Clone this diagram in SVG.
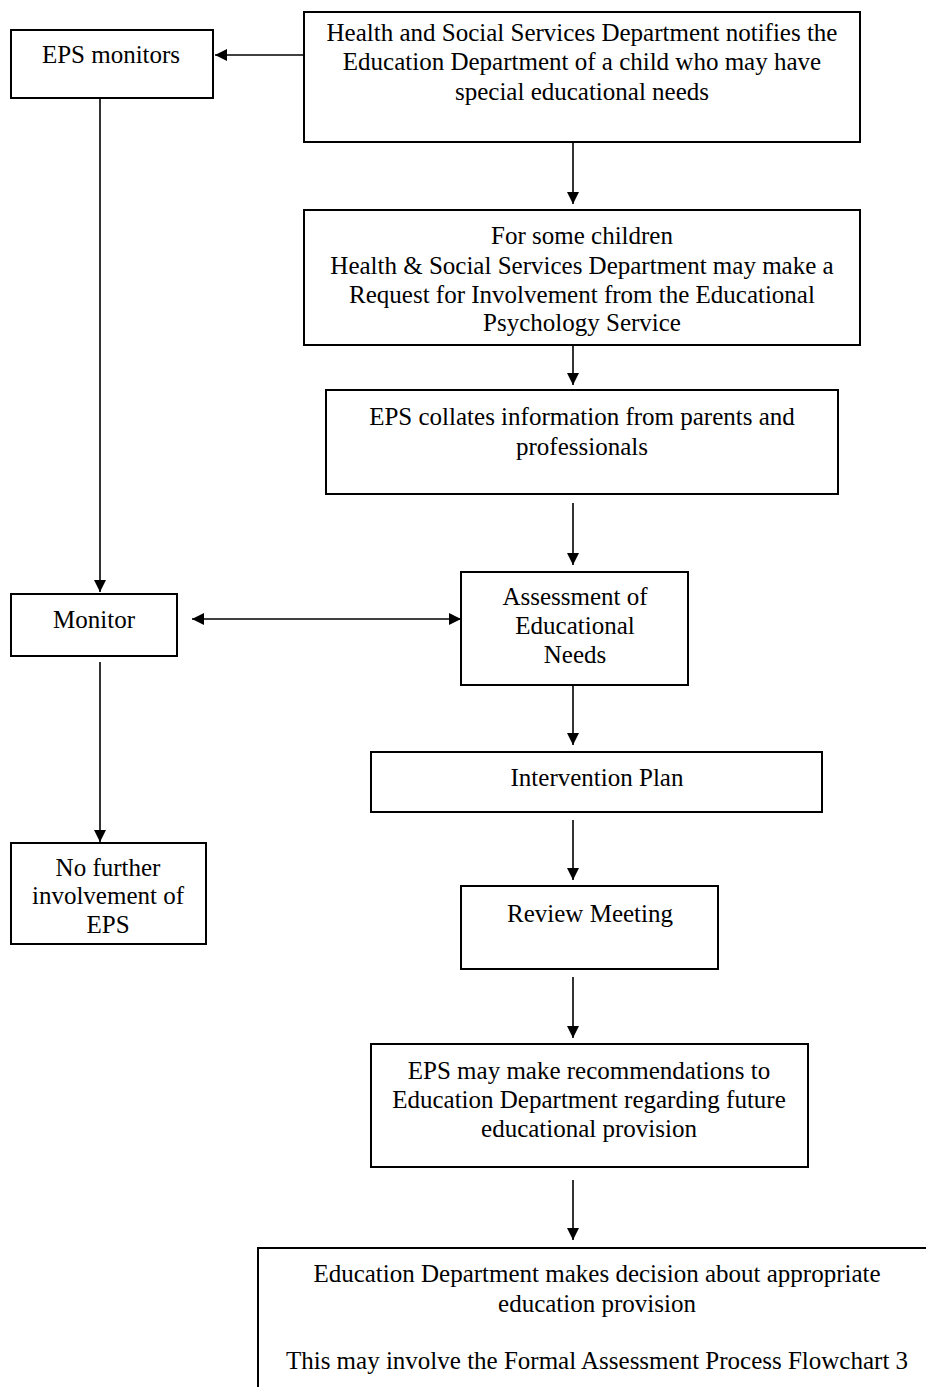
<svg xmlns="http://www.w3.org/2000/svg" width="926" height="1387" viewBox="0 0 926 1387">
<style>
.box{fill:#fff;stroke:#000;stroke-width:2}
.t{font-family:"Liberation Serif","Times New Roman",serif;font-size:25px;fill:#000;text-anchor:middle}
.c{stroke:#000;stroke-width:1.6;fill:none}
</style>
<defs>
<marker id="ah" viewBox="0 0 12 12" refX="12" refY="6" markerWidth="12" markerHeight="12" markerUnits="userSpaceOnUse" orient="auto-start-reverse">
<path d="M0,0 L12,6 L0,12 Z" fill="#000"/>
</marker>
</defs>
<rect width="926" height="1387" fill="#fff"/>
<g id="connectors">
<line class="c" x1="304" y1="55" x2="215" y2="55" marker-end="url(#ah)"/>
<line class="c" x1="573" y1="142" x2="573" y2="204" marker-end="url(#ah)"/>
<line class="c" x1="573" y1="345" x2="573" y2="385" marker-end="url(#ah)"/>
<line class="c" x1="573" y1="503" x2="573" y2="565" marker-end="url(#ah)"/>
<line class="c" x1="100" y1="98" x2="100" y2="592" marker-end="url(#ah)"/>
<line class="c" x1="192" y1="619" x2="461" y2="619" marker-start="url(#ah)" marker-end="url(#ah)"/>
<line class="c" x1="100" y1="662" x2="100" y2="842" marker-end="url(#ah)"/>
<line class="c" x1="573" y1="685" x2="573" y2="745" marker-end="url(#ah)"/>
<line class="c" x1="573" y1="820" x2="573" y2="880" marker-end="url(#ah)"/>
<line class="c" x1="573" y1="977" x2="573" y2="1038" marker-end="url(#ah)"/>
<line class="c" x1="573" y1="1180" x2="573" y2="1240" marker-end="url(#ah)"/>
</g>
<g id="hss-notifies">
<rect class="box" x="304" y="12" width="556" height="130"/>
<text class="t" x="582" y="41">Health and Social Services Department notifies the</text>
<text class="t" x="582" y="70">Education Department of a child who may have</text>
<text class="t" x="582" y="100">special educational needs</text>
</g>
<g id="eps-monitors">
<rect class="box" x="11" y="30" width="202" height="68"/>
<text class="t" x="111" y="63">EPS monitors</text>
</g>
<g id="request">
<rect class="box" x="304" y="210" width="556" height="135"/>
<text class="t" x="582" y="244">For some children</text>
<text class="t" x="582" y="274">Health &amp; Social Services Department may make a</text>
<text class="t" x="582" y="303">Request for Involvement from the Educational</text>
<text class="t" x="582" y="331">Psychology Service</text>
</g>
<g id="collates">
<rect class="box" x="326" y="390" width="512" height="104"/>
<text class="t" x="582" y="425">EPS collates information from parents and</text>
<text class="t" x="582" y="455">professionals</text>
</g>
<g id="assessment">
<rect class="box" x="461" y="572" width="227" height="113"/>
<text class="t" x="575" y="605">Assessment of</text>
<text class="t" x="575" y="634">Educational</text>
<text class="t" x="575" y="663">Needs</text>
</g>
<g id="monitor">
<rect class="box" x="11" y="594" width="166" height="62"/>
<text class="t" x="94" y="628">Monitor</text>
</g>
<g id="no-further">
<rect class="box" x="11" y="843" width="195" height="101"/>
<text class="t" x="108" y="876">No further</text>
<text class="t" x="108" y="904">involvement of</text>
<text class="t" x="108" y="933">EPS</text>
</g>
<g id="intervention">
<rect class="box" x="371" y="752" width="451" height="60"/>
<text class="t" x="597" y="786">Intervention Plan</text>
</g>
<g id="review">
<rect class="box" x="461" y="886" width="257" height="83"/>
<text class="t" x="590" y="922">Review Meeting</text>
</g>
<g id="recommendations">
<rect class="box" x="371" y="1044" width="437" height="123"/>
<text class="t" x="589" y="1079">EPS may make recommendations to</text>
<text class="t" x="589" y="1108">Education Department regarding future</text>
<text class="t" x="589" y="1137">educational provision</text>
</g>
<g id="decision">
<rect class="box" x="258" y="1248" width="700" height="160"/>
<text class="t" x="597" y="1282">Education Department makes decision about appropriate</text>
<text class="t" x="597" y="1312">education provision</text>
<text class="t" x="597" y="1369">This may involve the Formal Assessment Process Flowchart 3</text>
</g>
</svg>
